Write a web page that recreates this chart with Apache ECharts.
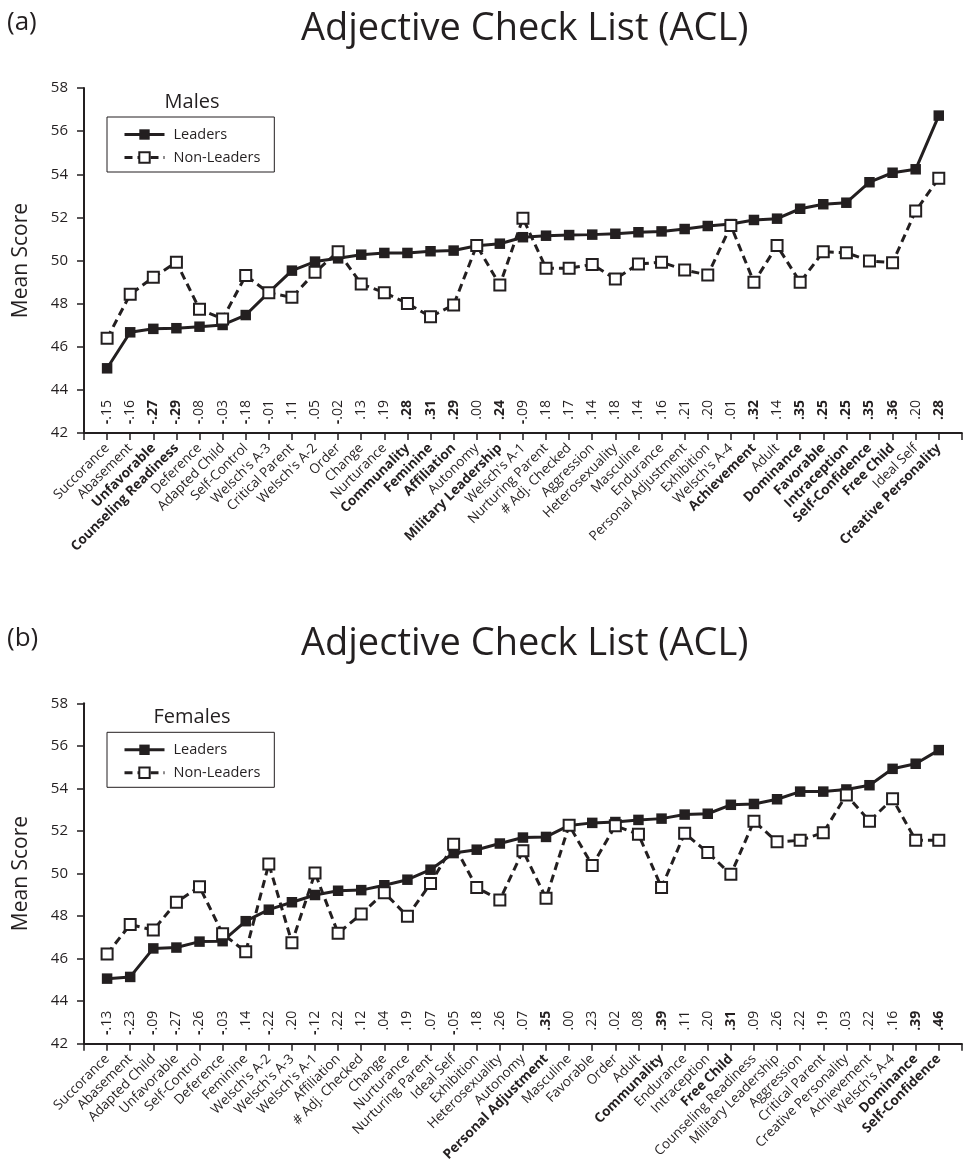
<!DOCTYPE html>
<html>
<head>
<meta charset="utf-8">
<title>Adjective Check List (ACL)</title>
<script src="https://cdn.jsdelivr.net/npm/echarts@6/dist/echarts.min.js"></script>
<style>
  html, body { margin: 0; padding: 0; background: #ffffff; }
  #chart { width: 964px; height: 1164px; }
</style>
</head>
<body>
<div id="chart"></div>
<script>
// ---- Males (panel a) ----
const maleCategories = [
  'Succorance', 'Abasement', 'Unfavorable', 'Counseling Readiness', 'Deference',
  'Adapted Child', 'Self-Control', "Welsch's A-3", 'Critical Parent', "Welsch's A-2",
  'Order', 'Change', 'Nurturance', 'Communality', 'Feminine', 'Affiliation',
  'Autonomy', 'Military Leadership', "Welsch's A-1", 'Nurturing Parent',
  '# Adj. Checked', 'Aggression', 'Heterosexuality', 'Masculine', 'Endurance',
  'Personal Adjustment', 'Exhibition', "Welsch's A-4", 'Achievement', 'Adult',
  'Dominance', 'Favorable', 'Intraception', 'Self-Confidence', 'Free Child',
  'Ideal Self', 'Creative Personality'
];
const maleCorrelations = [
  -0.15, -0.16, -0.27, -0.29, -0.08, -0.03, -0.18, -0.01, 0.11, 0.05,
  -0.02, 0.13, 0.19, 0.28, 0.31, 0.29, 0.00, 0.24, -0.09, 0.18,
  0.17, 0.14, 0.18, 0.14, 0.16, 0.21, 0.20, 0.01, 0.32, 0.14,
  0.35, 0.25, 0.25, 0.35, 0.36, 0.20, 0.28
];
const maleLeaders = [
  45.00, 46.67, 46.83, 46.86, 46.93, 47.01, 47.47, 48.52, 49.53, 49.95,
  50.10, 50.27, 50.35, 50.35, 50.43, 50.46, 50.68, 50.78, 51.08, 51.15,
  51.18, 51.20, 51.24, 51.31, 51.35, 51.46, 51.60, 51.69, 51.88, 51.94,
  52.40, 52.61, 52.68, 53.63, 54.07, 54.23, 56.72
];
const maleNonLeaders = [
  46.39, 48.43, 49.22, 49.92, 47.74, 47.29, 49.30, 48.50, 48.29, 49.45,
  50.41, 48.91, 48.51, 48.01, 47.39, 47.94, 50.70, 48.86, 51.96, 49.64,
  49.64, 49.82, 49.14, 49.84, 49.92, 49.56, 49.33, 51.62, 48.99, 50.69,
  48.99, 50.41, 50.36, 49.98, 49.90, 52.30, 53.81
];
const maleCriticalR = 0.24;   // |r| at or above this is set in bold

// ---- Females (panel b) ----
const femaleCategories = [
  'Succorance', 'Abasement', 'Adapted Child', 'Unfavorable', 'Self-Control',
  'Deference', 'Feminine', "Welsch's A-2", "Welsch's A-3", "Welsch's A-1",
  'Affiliation', '# Adj. Checked', 'Change', 'Nurturance', 'Nurturing Parent',
  'Ideal Self', 'Exhibition', 'Heterosexuality', 'Autonomy', 'Personal Adjustment',
  'Masculine', 'Favorable', 'Order', 'Adult', 'Communality', 'Endurance',
  'Intraception', 'Free Child', 'Counseling Readiness', 'Military Leadership',
  'Aggression', 'Critical Parent', 'Creative Personality', 'Achievement',
  "Welsch's A-4", 'Dominance', 'Self-Confidence'
];
const femaleCorrelations = [
  -0.13, -0.23, -0.09, -0.27, -0.26, -0.03, 0.14, -0.22, 0.20, -0.12,
  0.22, 0.12, 0.04, 0.19, 0.07, -0.05, 0.18, 0.26, 0.07, 0.35,
  0.00, 0.23, 0.02, 0.08, 0.39, 0.11, 0.20, 0.31, 0.09, 0.26,
  0.22, 0.19, 0.03, 0.22, 0.16, 0.39, 0.46
];
const femaleLeaders = [
  45.06, 45.14, 46.48, 46.52, 46.80, 46.82, 47.76, 48.30, 48.65, 48.99,
  49.19, 49.22, 49.45, 49.71, 50.18, 50.96, 51.12, 51.41, 51.69, 51.72,
  52.26, 52.38, 52.42, 52.52, 52.58, 52.77, 52.81, 53.23, 53.27, 53.49,
  53.85, 53.85, 53.95, 54.15, 54.92, 55.16, 55.80
];
const femaleNonLeaders = [
  46.22, 47.60, 47.34, 48.65, 49.38, 47.17, 46.32, 50.45, 46.75, 50.02,
  47.19, 48.10, 49.10, 47.99, 49.53, 51.38, 49.34, 48.76, 51.07, 48.84,
  52.27, 50.38, 52.24, 51.84, 49.34, 51.89, 50.99, 49.96, 52.46, 51.49,
  51.56, 51.92, 53.69, 52.46, 53.51, 51.56, 51.56
];
const femaleCriticalR = 0.30;

// ---- shared value axis ticks ----
const yTickLabels = [42, 44, 46, 48, 50, 52, 54, 56, 58];

const INK = '#231f20';
const FONT = '"Open Sans", "Noto Sans", "DejaVu Sans", sans-serif';
const CAT_SIZE = 13.5;
const CORR_SIZE = 14;

// "-.15" style correlation text
function formatR(r) {
  return (r < 0 ? '-' : '') + Math.abs(r).toFixed(2).slice(1);
}

function panel(idx, categories, correlations, leaders, nonLeaders, critical) {
  const padded = [''].concat(categories, ['']);
  const corrPadded = [''].concat(correlations.map(formatR), ['']);
  const isSig = i => i >= 1 && i <= correlations.length && Math.abs(correlations[i - 1]) >= critical - 1e-9;

  const catAxis = {
    type: 'category', gridIndex: idx, data: padded, boundaryGap: false,
    axisLine: { lineStyle: { color: INK, width: 2 } },
    axisTick: { show: true, interval: 0, length: 7, lineStyle: { color: INK, width: 1.5 } },
    splitLine: { show: false },
    axisLabel: {
      interval: 0, rotate: 45, margin: 13, color: INK, fontSize: CAT_SIZE, fontFamily: FONT,
      formatter: (v, i) => v === '' ? '' : (isSig(i) ? '{b|' + v + '}' : '{n|' + v + '}'),
      rich: {
        n: { fontSize: CAT_SIZE, fontFamily: FONT, color: INK },
        b: { fontSize: CAT_SIZE, fontFamily: FONT, color: INK, fontWeight: 'bold' }
      }
    }
  };

  // correlation row, written vertically just above the category axis
  const corrAxis = {
    type: 'category', gridIndex: idx, data: corrPadded, boundaryGap: false, position: 'bottom',
    axisLine: { show: false }, axisTick: { show: false }, splitLine: { show: false },
    axisLabel: {
      inside: true, interval: 0, rotate: 90, margin: 33, align: 'right', verticalAlign: 'middle',
      color: INK, fontSize: CORR_SIZE, fontFamily: FONT,
      formatter: (v, i) => {
        if (v === '') return '';
        const neg = v.charAt(0) === '-';
        const body = neg ? v.slice(1) : v;
        return (neg ? '{m|-}' : '') + (isSig(i) ? '{b|' + body + '}' : '{n|' + body + '}');
      },
      rich: {
        m: { fontSize: CORR_SIZE, fontFamily: FONT, color: INK, fontWeight: 'bold' },
        n: { fontSize: CORR_SIZE, fontFamily: FONT, color: INK },
        b: { fontSize: CORR_SIZE, fontFamily: FONT, color: INK, fontWeight: 'bold' }
      }
    }
  };

  const valAxis = {
    type: 'value', gridIndex: idx,
    min: yTickLabels[0], max: yTickLabels[yTickLabels.length - 1],
    interval: yTickLabels[1] - yTickLabels[0],
    axisLine: { show: true, lineStyle: { color: INK, width: 2 } },
    axisTick: { show: true, length: 7, lineStyle: { color: INK, width: 1.5 } },
    splitLine: { show: false },
    axisLabel: { color: INK, fontSize: 15, fontFamily: FONT, margin: 16 },
    name: 'Mean Score', nameLocation: 'middle', nameGap: 52,
    nameTextStyle: { color: INK, fontSize: 21, fontFamily: FONT }
  };

  const series = [
    {
      name: 'Leaders', type: 'line', xAxisIndex: idx * 2, yAxisIndex: idx,
      data: leaders.map((v, i) => [i + 1, v]),
      symbol: 'rect', symbolSize: 10.5, z: 2,
      itemStyle: { color: INK },
      lineStyle: { color: INK, width: 3 }
    },
    {
      name: 'Non-Leaders', type: 'line', xAxisIndex: idx * 2, yAxisIndex: idx,
      data: nonLeaders.map((v, i) => [i + 1, v]),
      symbol: 'rect', symbolSize: 11, z: 3,
      itemStyle: { color: '#ffffff', borderColor: INK, borderWidth: 2 },
      lineStyle: { color: INK, width: 3, type: [8, 5] }
    }
  ];
  return { catAxis, corrAxis, valAxis, series };
}

const a = panel(0, maleCategories, maleCorrelations, maleLeaders, maleNonLeaders, maleCriticalR);
const b = panel(1, femaleCategories, femaleCorrelations, femaleLeaders, femaleNonLeaders, femaleCriticalR);

const PANEL_SHIFT = 615.3;   // vertical distance between the two panels

function legendAt(top) {
  return {
    orient: 'vertical', left: 107, top: top,
    data: ['Leaders', 'Non-Leaders'],
    itemWidth: 40, itemHeight: 13, itemGap: 8,
    borderColor: INK, borderWidth: 1, padding: [10, 14, 7, 16],
    selectedMode: false,
    lineStyle: { width: 3 },
    itemStyle: { borderWidth: 2 },
    textStyle: { color: INK, fontSize: 14.5, fontFamily: FONT, lineHeight: 13, padding: [0, 0, 0, 4] }
  };
}

function titleSet(shift, tag) {
  return [
    { text: 'Adjective Check List (ACL)', left: 301, top: 10 + shift, padding: 0,
      textStyle: { color: INK, fontSize: 38, fontWeight: 'normal', fontFamily: FONT } },
    { text: tag, left: 7, top: 10 + shift, padding: 0,
      textStyle: { color: INK, fontSize: 26, fontWeight: 'normal', fontFamily: FONT } }
  ];
}

const chart = echarts.init(document.getElementById('chart'), null, { renderer: 'canvas' });
chart.setOption({
  animation: false,
  backgroundColor: '#ffffff',
  textStyle: { fontFamily: FONT },
  title: titleSet(0, '(a)').concat(titleSet(PANEL_SHIFT, '(b)')),
  legend: [legendAt(117), legendAt(117 + PANEL_SHIFT)],
  graphic: [
    { type: 'text', style: { text: 'Males', x: 192, y: 102, fill: INK, fontSize: 20, fontFamily: FONT, align: 'center', verticalAlign: 'middle' } },
    { type: 'text', style: { text: 'Females', x: 192, y: 102 + PANEL_SHIFT, fill: INK, fontSize: 20, fontFamily: FONT, align: 'center', verticalAlign: 'middle' } }
  ],
  grid: [
    { left: 84, top: 88, width: 882, height: 345 },
    { left: 84, top: 88 + PANEL_SHIFT, width: 882, height: 346 }
  ],
  xAxis: [a.catAxis, a.corrAxis, b.catAxis, b.corrAxis],
  yAxis: [a.valAxis, b.valAxis],
  series: a.series.concat(b.series)
});
</script>
</body>
</html>
